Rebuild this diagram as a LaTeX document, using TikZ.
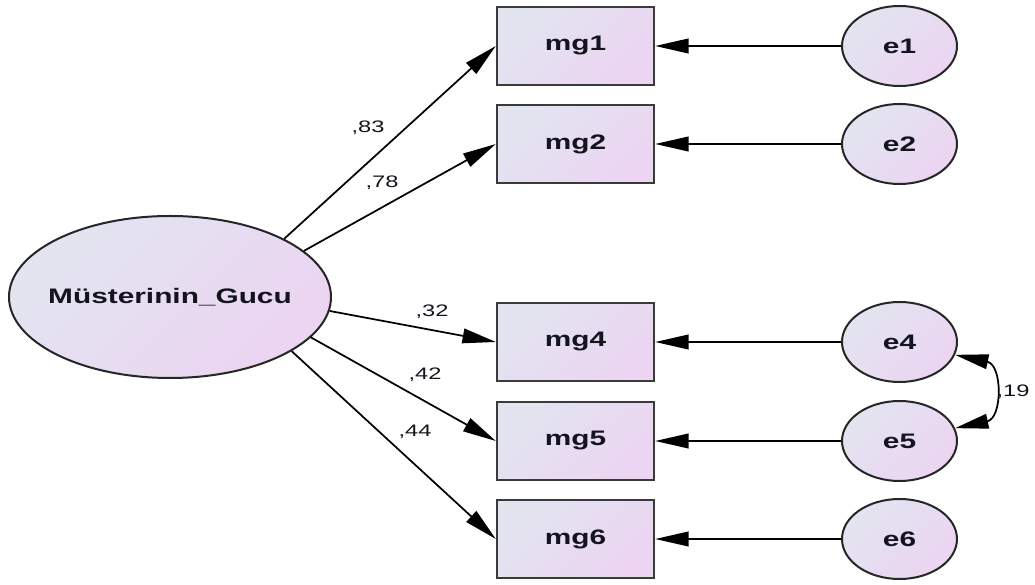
\documentclass[tikz,border=0pt]{standalone}
\usepackage{fontspec}
\setmainfont{Liberation Sans}
\usetikzlibrary{arrows.meta,shapes.geometric}
\definecolor{fillA}{RGB}{226,229,240}
\definecolor{fillB}{RGB}{236,212,242}
\definecolor{frame}{RGB}{58,58,58}
\definecolor{ink}{RGB}{20,20,30}
% text in the diagram is set wide; zero-width box so shapes keep their own size
\newcommand\hwide[1]{\makebox[0pt]{\scalebox{1.42}[1]{#1}}}

\begin{document}
\begin{tikzpicture}[x=0.75pt,y=0.75pt,
  grad/.style={top color=fillA,bottom color=fillB,shading angle=45},
  obsbox/.style={rectangle,draw=frame,line width=1.8pt,grad,
    minimum width=117.75pt,minimum height=58.5pt,inner sep=0pt,
    text=ink,font=\bfseries\fontsize{15.75}{18}\selectfont},
  latent/.style={ellipse,draw=black!85,line width=1.5pt,grad,
    minimum width=241.5pt,minimum height=121.5pt,inner sep=0pt,
    text=ink,font=\bfseries\fontsize{15.75}{18}\selectfont},
  errnode/.style={ellipse,draw=black!85,line width=1.5pt,grad,
    minimum width=86.25pt,minimum height=60pt,inner sep=0pt,
    text=ink,font=\bfseries\fontsize{15.75}{18}\selectfont},
  coef/.style={text=ink,inner sep=0pt,font=\fontsize{12.5}{15}\selectfont},
  path/.style={line width=1.3pt,-{Triangle[length=25pt,width=11pt]}},
  cov/.style={line width=1.3pt,{Triangle[length=25pt,width=11pt]}-{Triangle[length=25pt,width=11pt]}}
]
\useasboundingbox (0,0) rectangle (1035,585);

% latent factor
\node[latent] (F) at (170,288) {\hwide{Müsterinin\_Gucu}};

% observed indicators
\node[obsbox] (mg1) at (575.5,539) {\hwide{mg1}};
\node[obsbox] (mg2) at (575.5,441) {\hwide{mg2}};
\node[obsbox] (mg4) at (575.5,243) {\hwide{mg4}};
\node[obsbox] (mg5) at (575.5,144) {\hwide{mg5}};
\node[obsbox] (mg6) at (575.5,46)  {\hwide{mg6}};

% error terms
\node[errnode] (e1) at (899.5,539) {\hwide{e1}};
\node[errnode] (e2) at (899.5,441) {\hwide{e2}};
\node[errnode] (e4) at (899.5,243) {\hwide{e4}};
\node[errnode] (e5) at (899.5,144) {\hwide{e5}};
\node[errnode] (e6) at (899.5,46)  {\hwide{e6}};

% factor loadings
\draw[path] (F.27)  -- (mg1.west);
\draw[path] (F.19)  -- (mg2.west);
\draw[path] (F.-5)  -- (mg4.west);
\draw[path] (F.-16) -- (mg5.west);
\draw[path] (F.-24) -- (mg6.west);

% error paths
\foreach \i in {1,2,4,5,6}
  \draw[path] (e\i) -- (mg\i);

% error covariance
\draw[cov] (e4.-13) to[out=-12,in=12,looseness=1.7] (e5.13);

% coefficients
\node[coef] (c1) at (368,457) {\hwide{,83}};
\node[coef] (c2) at (382,402) {\hwide{,78}};
\node[coef] (c4) at (432,273) {\hwide{,32}};
\node[coef] (c5) at (425,210) {\hwide{,42}};
\node[coef] (c6) at (415,153) {\hwide{,44}};
\node[coef] (c45) at (1013,193) {\hwide{,19}};
\end{tikzpicture}
\end{document}
